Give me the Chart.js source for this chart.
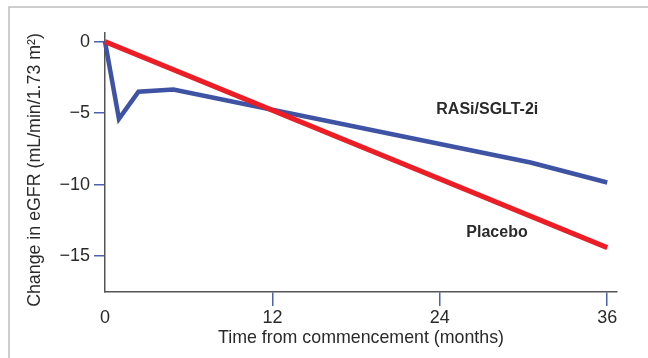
<!DOCTYPE html>
<html lang="en">
<head>
<meta charset="UTF-8">
<title>Change in eGFR over time</title>
<style>
  html, body { margin: 0; padding: 0; background: #fff; }
  #wrap { position: relative; width: 648px; height: 358px; }
</style>
</head>
<body>
<div id="wrap"><canvas id="egfrChart" width="648" height="358"></canvas></div>
<script src="https://cdn.jsdelivr.net/npm/chart.js"></script>
<script>
// values (months, change in eGFR)
const rasiMonths = [0, 1.0, 2.4, 4.9, 30.5, 36];
const rasiValues = [0, -5.4, -3.5, -3.35, -8.45, -9.85];
const placeboMonths = [0, 36];
const placeboValues = [0, -14.4];
const xTicks = [0, 12, 24, 36];
const yTicks = [0, -5, -10, -15];

const seriesNames = ['RASi/SGLT-2i', 'Placebo'];
// where the series names sit, in data units
const nameSpots = [{ x: 27.4, y: -4.72 }, { x: 28.1, y: -13.33 }];

const RED = '#ec1d25';
const BLUE = '#3e53a4';
const TICK_BLUE = '#4d61ad';
const TEXT = '#2a2a2a';
const FONT = "'Liberation Sans', Arial, sans-serif";

Chart.defaults.font.family = FONT;
Chart.defaults.color = TEXT;

function toPoints(xs, ys) {
    return xs.map((x, i) => ({ x: x, y: ys[i] }));
}

function minusLabel(v) {
    return v < 0 ? '\u2212' + Math.abs(v) : String(v);
}

// grey frame round the figure + y title + series names
const extras = {
    id: 'extras',
    beforeDraw(chart) {
        const ctx = chart.ctx;
        ctx.save();
        ctx.strokeStyle = '#bdbdbd';
        ctx.lineWidth = 1.5;
        ctx.beginPath();
        ctx.moveTo(9, 358);
        ctx.lineTo(9, 7);
        ctx.lineTo(648, 7);
        ctx.stroke();
        ctx.restore();
    },
    afterDraw(chart) {
        const ctx = chart.ctx;
        const xs = chart.scales.x, ys = chart.scales.y;
        ctx.save();
        ctx.fillStyle = TEXT;
        ctx.textAlign = 'center';
        ctx.textBaseline = 'middle';

        ctx.translate(35, 170);
        ctx.rotate(-Math.PI / 2);
        ctx.font = '17.8px ' + FONT;
        ctx.fillText('Change in eGFR (mL/min/1.73 m\u00B2)', 0, 0);
        ctx.setTransform(1, 0, 0, 1, 0, 0);

        ctx.font = 'bold 16px ' + FONT;
        seriesNames.forEach((name, i) => {
            ctx.fillText(name, xs.getPixelForValue(nameSpots[i].x), ys.getPixelForValue(nameSpots[i].y));
        });
        ctx.restore();
    }
};

const ctx = document.getElementById('egfrChart').getContext('2d');
new Chart(ctx, {
    type: 'line',
    data: {
        datasets: [
            {
                label: 'Placebo',
                data: toPoints(placeboMonths, placeboValues),
                borderColor: RED,
                borderWidth: 5,
                pointRadius: 0,
                tension: 0,
                clip: false
            },
            {
                label: 'RASi/SGLT-2i',
                data: toPoints(rasiMonths, rasiValues),
                borderColor: BLUE,
                borderWidth: 4.5,
                borderJoinStyle: 'miter',
                pointRadius: 0,
                tension: 0,
                clip: false
            }
        ]
    },
    options: {
        responsive: false,
        animation: false,
        devicePixelRatio: 1,
        layout: { padding: { top: 33, right: 31, left: 0, bottom: 0 } },
        plugins: { legend: { display: false }, tooltip: { enabled: false } },
        scales: {
            x: {
                type: 'linear',
                min: 0,
                max: 36.7,
                afterBuildTicks: s => { s.ticks = xTicks.map(v => ({ value: v })); },
                afterFit: s => { s.height = 66; },
                ticks: { autoSkip: false, maxRotation: 0, padding: 1, font: { size: 18 }, color: TEXT },
                grid: {
                    drawOnChartArea: false,
                    drawTicks: true,
                    tickLength: 14,
                    lineWidth: 1.5,
                    color: c => (c.tick && c.tick.value === 0) ? 'rgba(0,0,0,0)' : TICK_BLUE
                },
                border: { color: '#555', width: 1.5 },
                title: {
                    display: true,
                    text: 'Time from commencement (months)',
                    font: { size: 17.8 },
                    color: TEXT,
                    padding: { top: 0, bottom: 9 }
                }
            },
            y: {
                min: -17.5,
                max: 0.6,
                afterBuildTicks: s => { s.ticks = yTicks.map(v => ({ value: v })); },
                afterFit: s => { s.width = 105; },
                ticks: { autoSkip: false, padding: 4, font: { size: 18 }, color: TEXT, callback: v => minusLabel(v) },
                grid: {
                    drawOnChartArea: false,
                    drawTicks: true,
                    tickLength: 11,
                    lineWidth: 1.5,
                    color: TICK_BLUE
                },
                border: { color: '#555', width: 1.5 }
            }
        }
    },
    plugins: [extras]
});
</script>
</body>
</html>
